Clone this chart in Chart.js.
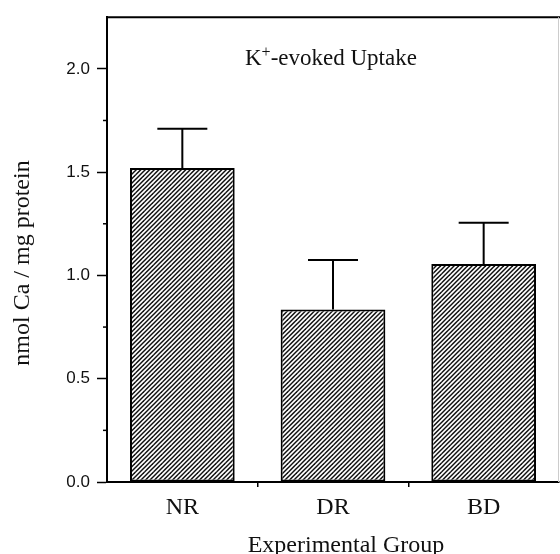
<!DOCTYPE html>
<html>
<head>
<meta charset="utf-8">
<script src="https://cdn.jsdelivr.net/npm/chart.js@4.4.1/dist/chart.umd.min.js"></script>
<style>
  html, body { margin: 0; padding: 0; background: #fff; }
  #wrap { width: 560px; height: 554px; position: relative; }
</style>
</head>
<body>
<div id="wrap"><canvas id="uptakeChart"></canvas></div>
<script>
const groups = ['NR', 'DR', 'BD'];
const uptake = [1.52, 0.835, 1.055];
const uptakeErr = [0.19, 0.24, 0.20];
const yMax = 2.25;
const yStep = 0.25;

const serif = '"Liberation Serif", "Times New Roman", serif';
const sans = '"Liberation Sans", Arial, sans-serif';

function isMajor(v) {
  return Math.abs(v * 2 - Math.round(v * 2)) < 1e-6;
}

// diagonal "/" hatching like the printed figure
function hatch() {
  const c = document.createElement('canvas');
  c.width = 9; c.height = 9;
  const g = c.getContext('2d');
  g.fillStyle = '#fff';
  g.fillRect(0, 0, 9, 9);
  g.strokeStyle = '#111';
  g.lineWidth = 1.5;
  for (let k = -2; k <= 5; k++) {
    const s = k * 4.5;
    g.beginPath();
    g.moveTo(s + 2, -2);
    g.lineTo(s - 11, 11);
    g.stroke();
  }
  return g.createPattern(c, 'repeat');
}

const extras = {
  id: 'extras',
  afterDatasetsDraw(chart) {
    const ctx = chart.ctx;
    const y = chart.scales.y;
    const meta = chart.getDatasetMeta(0);
    ctx.save();
    ctx.strokeStyle = '#000';
    ctx.lineWidth = 2;
    meta.data.forEach((bar, i) => {
      const top = y.getPixelForValue(uptake[i] + uptakeErr[i]);
      ctx.beginPath();
      ctx.moveTo(bar.x, bar.y);
      ctx.lineTo(bar.x, top);
      ctx.moveTo(bar.x - 25, top);
      ctx.lineTo(bar.x + 25, top);
      ctx.stroke();
    });
    ctx.restore();
  },
  afterDraw(chart) {
    const ctx = chart.ctx;
    const a = chart.chartArea;
    const y = chart.scales.y;
    ctx.save();
    // frame: top line and faint right edge
    ctx.strokeStyle = '#000';
    ctx.lineWidth = 2;
    ctx.beginPath();
    ctx.moveTo(a.left - 1, a.top);
    ctx.lineTo(chart.width, a.top);
    ctx.stroke();
    ctx.strokeStyle = '#ccc';
    ctx.lineWidth = 1;
    ctx.beginPath();
    ctx.moveTo(a.right - 0.5, a.top);
    ctx.lineTo(a.right - 0.5, a.bottom);
    ctx.stroke();
    // minor y ticks
    ctx.strokeStyle = '#000';
    ctx.lineWidth = 1.5;
    y.ticks.forEach(t => {
      if (isMajor(t.value) || t.value >= yMax) return;
      const py = y.getPixelForValue(t.value);
      ctx.beginPath();
      ctx.moveTo(a.left - 4, py);
      ctx.lineTo(a.left, py);
      ctx.stroke();
    });
    // titles
    ctx.fillStyle = '#111';
    ctx.font = '24px ' + serif;
    ctx.textAlign = 'center';
    ctx.textBaseline = 'alphabetic';
    ctx.fillText('Experimental Group', 346, 552);
    ctx.save();
    ctx.translate(29, 263);
    ctx.rotate(-Math.PI / 2);
    ctx.fillText('nmol Ca / mg protein', 0, 0);
    ctx.restore();
    // K+-evoked Uptake
    ctx.textAlign = 'left';
    ctx.font = '23px ' + serif;
    let x = 245;
    ctx.fillText('K', x, 65);
    x += ctx.measureText('K').width;
    ctx.font = '16px ' + serif;
    ctx.fillText('+', x, 57);
    x += ctx.measureText('+').width;
    ctx.font = '23px ' + serif;
    ctx.fillText('-evoked Uptake', x, 65);
    ctx.restore();
  }
};

new Chart(document.getElementById('uptakeChart'), {
  type: 'bar',
  data: {
    labels: groups,
    datasets: [{
      data: uptake,
      backgroundColor: hatch(),
      borderColor: '#000',
      borderWidth: 2,
      borderSkipped: false,
      categoryPercentage: 1,
      barPercentage: 0.695
    }]
  },
  plugins: [extras],
  options: {
    responsive: true,
    maintainAspectRatio: false,
    animation: false,
    devicePixelRatio: 1,
    layout: {
      autoPadding: false,
      padding: { top: 13, right: 1, left: 0, bottom: 0 }
    },
    plugins: {
      legend: { display: false },
      tooltip: { enabled: false }
    },
    scales: {
      x: {
        afterFit: s => { s.height = 72; },
        grid: {
          display: true,
          offset: true,
          drawOnChartArea: false,
          tickLength: 5,
          lineWidth: 1.5,
          color: c => (c.index > 0 && c.index < groups.length) ? '#000' : 'rgba(0,0,0,0)'
        },
        border: { color: '#000', width: 2 },
        ticks: {
          color: '#111',
          padding: 6,
          font: { family: serif, size: 24 }
        }
      },
      y: {
        min: 0,
        max: yMax,
        afterFit: s => { s.width = 107; },
        grid: {
          display: true,
          drawOnChartArea: false,
          tickLength: 10,
          tickWidth: 1.5,
          tickColor: c => (c.tick && isMajor(c.tick.value) && c.tick.value < yMax) ? '#000' : 'rgba(0,0,0,0)'
        },
        border: { color: '#000', width: 2 },
        ticks: {
          stepSize: yStep,
          autoSkip: false,
          color: '#111',
          padding: 7,
          font: { family: sans, size: 17 },
          callback: v => isMajor(v) && v < yMax ? v.toFixed(1) : ''
        }
      }
    }
  }
});
</script>
</body>
</html>
